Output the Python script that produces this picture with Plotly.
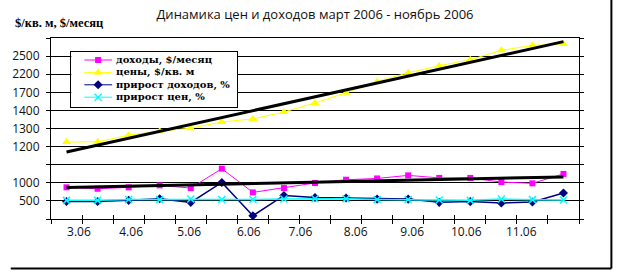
import numpy as np
import plotly.graph_objects as go

# ---------------- data (in axis-division units) ----------------
points = list(range(17))
month_labels = ["3.06", "4.06", "5.06", "6.06", "7.06", "8.06", "9.06", "10.06", "11.06"]
month_pos = [0.40, 2.08, 3.95, 5.87, 7.53, 9.31, 11.13, 12.87, 14.64]
y_tick_vals = list(range(11))
y_tick_text = ["", "500", "1000", "", "1200", "1300", "1400", "1700", "2200", "2500", ""]

income = [1.75, 1.67, 1.75, 1.86, 1.71, 2.78, 1.47, 1.71, 1.99, 2.17, 2.24, 2.41, 2.27, 2.27, 2.04, 1.97, 2.49]
prices = [4.25, 4.27, 4.63, 4.85, 5.02, 5.36, 5.53, 5.91, 6.41, 6.98, 7.60, 8.08, 8.47, 8.80, 9.32, 9.59, 9.67]
income_growth = [0.97, 0.97, 1.03, 1.12, 0.92, 2.02, 0.18, 1.30, 1.19, 1.16, 1.10, 1.10, 0.92, 0.96, 0.88, 0.94, 1.44]
price_growth = [1.03, 1.03, 1.08, 1.07, 1.10, 1.08, 1.08, 1.10, 1.12, 1.12, 1.08, 1.08, 1.05, 1.03, 1.10, 1.07, 1.05]

series_names = ["доходы, $/месяц", "цены, $/кв. м", "прирост доходов, %", "прирост цен, %"]
colors = ["#FF00FF", "#FFFF00", "#000080", "#00FFFF"]
symbols = ["square", "triangle-up", "diamond", "x-thin"]
msizes = [6, 8, 7, 7]
lwidths = [1, 1, 1.5, 1.5]

title_text = "Динамика цен и доходов март 2006 - ноябрь 2006"
ylabel_text = "$/кв. м, $/месяц"

# ---------------- geometry ----------------
W, H = 617, 273
L, R, T, B = 41, 38, 38, 54
PW, PH = W - L - R, H - T - B

def px_x(p):
    return (p - L) / PW

def px_y(p):
    return (H - B - p) / PH

fig = go.Figure()

all_series = [income, prices, income_growth, price_growth]
for vals, name, c, s, ms, lw in zip(all_series, series_names, colors, symbols, msizes, lwidths):
    mk = dict(symbol=s, size=ms, color=c)
    if s == "x-thin":
        mk["line"] = dict(color=c, width=1.5)
    else:
        mk["line"] = dict(width=0)
    fig.add_trace(go.Scatter(x=points, y=vals, mode="lines+markers", name=name,
                             line=dict(color=c, width=lw), marker=mk,
                             showlegend=False, hoverinfo="skip"))

# linear trend lines (as Excel)
for vals in (prices, income):
    k, b = np.polyfit(points, vals, 1)
    fit = [k * p + b for p in points]
    fig.add_trace(go.Scatter(x=[points[0], points[-1]], y=[fit[0], fit[-1]], mode="lines",
                             line=dict(color="black", width=3), showlegend=False, hoverinfo="skip"))

# dummy traces so overlay axes get drawn
fig.add_trace(go.Scatter(x=[0], y=[0], xaxis="x2", yaxis="y", mode="markers",
                         marker=dict(opacity=0), showlegend=False, hoverinfo="skip"))
fig.add_trace(go.Scatter(x=[0], y=[0], xaxis="x3", yaxis="y", mode="markers",
                         marker=dict(opacity=0), showlegend=False, hoverinfo="skip"))

# ---------------- custom legend (inset subplot) ----------------
leg_x0, leg_x1, leg_y0, leg_y1 = 61.7, 231, 51.7, 107.3
item_y = [60, 72.4, 84.8, 97.2]
for name, c, s, ms, lw, yy in zip(series_names, colors, symbols, msizes, lwidths, item_y):
    mk = dict(symbol=s, size=ms, color=c)
    if s == "x-thin":
        mk["line"] = dict(color=c, width=1.5)
    else:
        mk["line"] = dict(width=0)
    fig.add_trace(go.Scatter(x=[75, 89, 103.3], y=[yy, yy, yy], xaxis="x4", yaxis="y4",
                             mode="lines", line=dict(color=c, width=1),
                             showlegend=False, hoverinfo="skip"))
    fig.add_trace(go.Scatter(x=[89], y=[yy], xaxis="x4", yaxis="y4", mode="markers",
                             marker=mk, showlegend=False, hoverinfo="skip"))
    fig.add_annotation(x=106.5, y=yy, xref="x4", yref="y4", text="<b>" + name + "</b>",
                       showarrow=False, xanchor="left", yanchor="middle", borderpad=0,
                       font=dict(family="DejaVu Serif", size=10, color="black"))

xr = [-0.5, 16.5]
bounds = [i - 0.5 for i in range(18)]
fig.update_layout(
    width=W, height=H,
    margin=dict(l=L, r=R, t=T, b=B, pad=0),
    paper_bgcolor="white", plot_bgcolor="white",
    showlegend=False,
    title=dict(text=title_text, x=0.5, xref="paper", xanchor="center",
               y=1 - 14 / H, yref="container", yanchor="middle",
               font=dict(family="Open Sans", size=13, color="#111")),
    xaxis=dict(range=xr, tickmode="array", tickvals=bounds, showticklabels=False,
               ticks="outside", ticklen=4, tickcolor="black", tickwidth=1,
               showline=True, linecolor="black", linewidth=1, mirror=True,
               showgrid=False, zeroline=False, fixedrange=True),
    xaxis2=dict(range=xr, overlaying="x", anchor="y", tickmode="array", tickvals=bounds,
                showticklabels=False, ticks="inside", ticklen=4, tickcolor="black",
                showline=False, showgrid=False, zeroline=False),
    xaxis3=dict(range=xr, overlaying="x", anchor="y", tickmode="array", tickvals=month_pos,
                ticktext=month_labels, ticks="", showline=False, showgrid=False,
                zeroline=False, ticklabelstandoff=4,
                tickfont=dict(family="Open Sans", size=12, color="#111")),
    yaxis=dict(range=[0, 10], tickmode="array", tickvals=y_tick_vals, ticktext=y_tick_text,
               ticks="outside", ticklen=4, tickcolor="black", showline=True,
               linecolor="black", linewidth=1, mirror="ticks", showgrid=True,
               gridcolor="black", gridwidth=1, zeroline=False, ticklabelstandoff=4,
               tickfont=dict(family="Open Sans", size=12, color="#111")),
    xaxis4=dict(domain=[px_x(leg_x0), px_x(leg_x1)], range=[leg_x0, leg_x1], anchor="y4",
                showline=True, mirror=True, linecolor="black", linewidth=1, ticks="",
                showticklabels=False, showgrid=False, zeroline=False),
    yaxis4=dict(domain=[px_y(leg_y1), px_y(leg_y0)], range=[leg_y1, leg_y0], anchor="x4",
                showline=True, mirror=True, linecolor="black", linewidth=1, ticks="",
                showticklabels=False, showgrid=False, zeroline=False),
)

fig.add_annotation(x=px_x(2), y=px_y(23), xref="paper", yref="paper", text="<b>" + ylabel_text + "</b>",
                   showarrow=False, xanchor="left", yanchor="middle",
                   font=dict(family="Liberation Serif", size=12.5, color="black"))

# frame on right and bottom
fig.add_shape(type="line", xref="paper", yref="paper", x0=px_x(612), x1=px_x(612),
              y0=px_y(268.5), y1=px_y(0), line=dict(color="black", width=2))
fig.add_shape(type="line", xref="paper", yref="paper", x0=px_x(0), x1=px_x(612),
              y0=px_y(268.5), y1=px_y(268.5), line=dict(color="black", width=2))

fig.write_html("out.html")
